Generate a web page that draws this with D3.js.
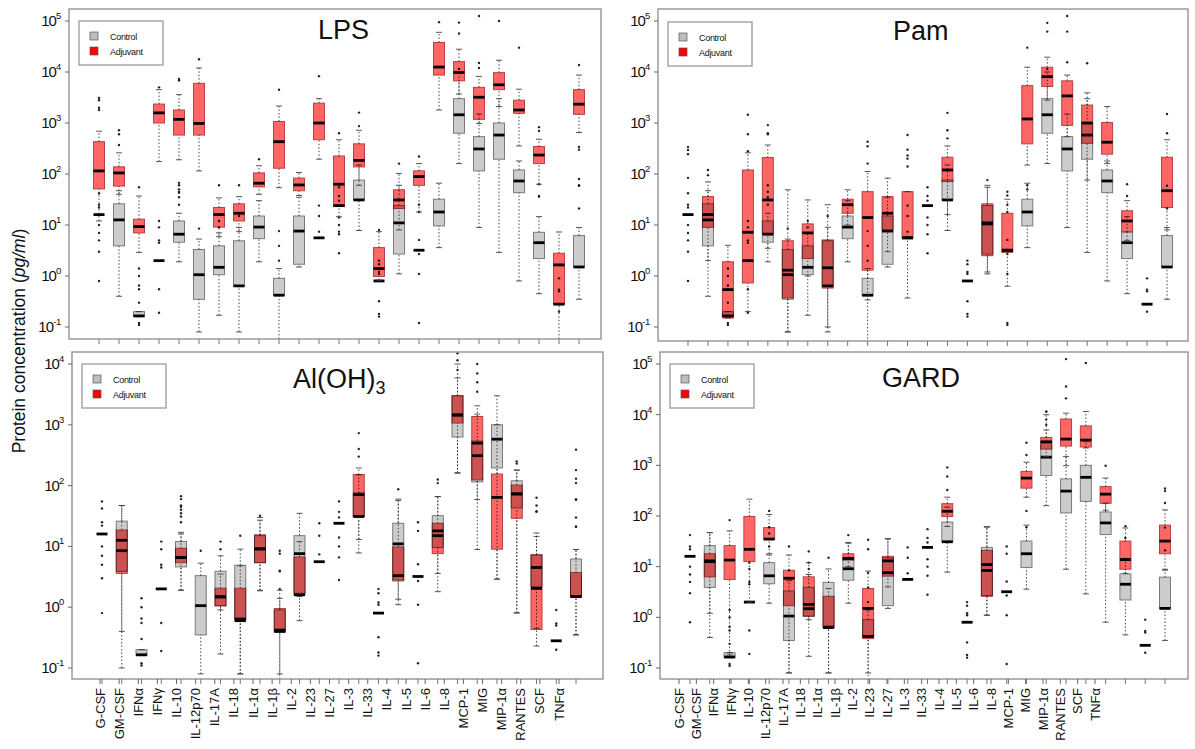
<!DOCTYPE html>
<html>
<head>
<meta charset="utf-8">
<script src="https://d3js.org/d3.v7.min.js"></script>
<style>
  body { margin: 0; background: #fff; }
  svg text { font-family: "Liberation Sans", Arial, sans-serif; fill: #111; }
</style>
</head>
<body>
<script>
const W = 1195, H = 749

const cytokines = ["G-CSF", "GM-CSF", "IFNα", "IFNγ", "IL-10", "IL-12p70", "IL-17A", "IL-18", "IL-1α", "IL-1β",
  "IL-2", "IL-23", "IL-27", "IL-3", "IL-33", "IL-4", "IL-5", "IL-6", "IL-8", "MCP-1", "MIG", "MIP-1α", "RANTES", "SCF", "TNFα"]

// box stats per cytokine: [lower whisker, Q1, median, Q3, upper whisker] in pg/ml, null = no box
const controlBox = [
  [16, 16, 16, 16, 16], [0.4, 3.9, 12.6, 26, 47], [0.16, 0.16, 0.165, 0.2, 0.2], [2, 2, 2, 2, 2],
  [1.9, 4.6, 6.6, 12, 17], [0.08, 0.35, 1.06, 3.3, 5.3], [0.17, 1.06, 1.48, 3.9, 7], [0.08, 0.64, 0.64, 4.9, 9],
  [1.9, 5.4, 9.1, 15, 30], [0.05, 0.42, 0.42, 0.9, 1.4], [1.5, 1.7, 7.6, 15, 35], [5.6, 5.6, 5.6, 5.6, 5.6],
  [24, 24, 24, 24, 24], [7.8, 31, 31, 76, 150], [0.8, 0.8, 0.8, 0.8, 0.8], [1.1, 2.7, 11, 24, 60],
  [3.2, 3.2, 3.2, 3.2, 3.2], [3.6, 9.6, 18, 32, 66], [160, 630, 1450, 3000, 10000], [8.9, 115, 310, 540, 1500],
  [2.9, 195, 580, 1000, 3000], [0.8, 43, 73, 120, 180], [0.45, 2.2, 4.5, 7.2, 14.6], [0.28, 0.28, 0.28, 0.28, 0.28],
  [0.35, 1.5, 1.5, 6.2, 8.9]
]
const controlOut = [
  [42, 25, 22, 10, 7, 5, 3, 0.8], [], [1.4, 1.0, 0.65, 0.55, 0.3, 0.12, 0.11], [12, 9, 5, 4.5, 0.55, 0.19],
  [60, 45, 35, 25], [8.5], [12, 9], [15], [], [2.0, 3.9, 7.6], [], [24, 15, 7.4],
  [55, 37, 30, 14, 10, 6.6, 2.8], [], [2.0, 1.7, 1.2, 1.1, 0.32, 0.18, 0.16], [],
  [25, 18, 5.1, 2.7, 1.1, 0.12], [], [11500], [], [], [], [63, 37], [0.9, 0.54, 0.5, 0.2], [59, 21]
]

const lpsBox = [
  [12, 51, 115, 430, 690], [40, 58, 105, 138, 260], [2.9, 7, 9.3, 13, 37], [175, 1000, 1580, 2350, 4500],
  [190, 580, 1180, 1800, 3600], [115, 580, 980, 6000, 12000], [5.9, 9.1, 16, 22, 34], [7.4, 12, 17, 26, 36],
  [40, 56, 66, 105, 145], [54, 130, 430, 1070, 2150], [38, 47, 61, 83, 107], [195, 470, 1000, 2450, 3000],
  [14.5, 23, 63, 225, 470], [60, 138, 185, 390, 720], [0.83, 0.98, 1.4, 3.6, 7.4], [8, 21, 31, 49, 102],
  [18, 60, 89, 115, 160], [1800, 8700, 12500, 38000, 60000], [3700, 6700, 9800, 16000, 28000], [980, 1180, 3200, 5000, 8200],
  [2100, 4500, 5600, 9700, 17000], [355, 1550, 1800, 2800, 4600], [63, 160, 235, 345, 480], [0.05, 0.28, 1.65, 2.8, 7.3],
  [650, 1480, 2340, 4500, 8700]
]
const lpsOut = [
  [3100, 2800, 2000, 1800], [720, 600, 370], [55], [5000], [7300, 6800, 67, 50, 43], [17800], [60], [60], [195], [4500],
  [], [8300], [630, 7.4], [870, 1600], [8], [160], [220], [95000], [57000, 93000], [12000, 15000, 125000],
  [100000], [30000], [830, 700, 36], [], [13700, 340, 300, 80, 60]
]

const pamBox = [
  null, [2, 9, 16, 36, 70], [0.15, 0.15, 0.54, 1.9, 4], [0.2, 0.73, 7.2, 120, 260],
  [3.5, 6.9, 31, 210, 370], [0.08, 0.37, 1.3, 4.9, 49], [1, 2.2, 7, 10.5, 31], [0.1, 0.58, 1.45, 5.1, 25],
  [10, 17, 25, 32, 49], [0.34, 1.3, 14, 45, 112], [3, 8, 17, 36, 83], [0.37, 5.6, 5.6, 45, 45],
  null, [16, 71, 120, 213, 355], null, [1.2, 2.5, 10.5, 26, 55],
  [0.63, 2.9, 3.2, 17, 32], [150, 390, 1200, 5400, 12400], [2800, 5200, 8100, 12400, 19500], [540, 900, 3400, 6700, 8700],
  [76, 400, 1000, 2250, 3900], [160, 245, 420, 1020, 2100], [5, 7.4, 12, 19, 30], null,
  [8, 22, 47, 213, 470]
]
const pamOut = [
  [340, 295, 245, 84], [120, 95], [], [1450, 600, 280], [910, 630, 600], [], [], [], [], [430, 350, 160],
  [], [580, 300, 230, 200, 140], [], [1580, 720, 500], [], [76], [45, 38, 0.11], [30000, 60, 50],
  [62000, 92000], [15500, 62000, 125000], [14800], [], [], [], [1500, 630]
]

const alumBox = [
  null, [0.1, 3.6, 8.5, 18.6, 47], null, null,
  [1.9, 5.4, 6.6, 9.3, 16], null, [0.9, 1.05, 1.48, 2.05, 3.5], [0.08, 0.6, 0.6, 2.05, 4.8],
  [1.86, 5.4, 9.1, 15.5, 27], [0.08, 0.39, 0.4, 0.95, 1.9], [0.6, 1.6, 1.6, 6.7, 12], null,
  null, [13, 31, 71, 152, 195], null, [1.35, 2.8, 3.3, 9.8, 57],
  null, [1.8, 7.6, 15, 24, 66], [163, 1070, 1450, 3000, 5900], [59, 124, 500, 1370, 2050],
  [2.9, 9, 64, 155, 1000], [0.81, 29, 73, 102, 180], [0.23, 0.43, 2.04, 7.3, 16.6], null,
  [0.35, 1.5, 1.5, 3.7, 8.9]
]
const alumOut = [
  [55], [], [], [], [67, 47, 40, 31], [], [], [], [32], [8.5, 4],
  [], [], [], [400, 300, 730], [], [87], [], [126, 110], [15000, 8000], [10000, 7000, 5000, 3500],
  [], [250, 230], [47, 38], [], [390, 180, 130, 110, 59, 30, 21]
]

const gardBox = [
  null, [1.2, 6.3, 13, 18, 47], [0.18, 5.6, 13.5, 26, 51], [2, 12.6, 22, 98, 215],
  [18, 35, 35, 59, 107], [0.08, 1.7, 5.9, 8.5, 17], [0.9, 1.05, 1.8, 6.3, 12], [0.08, 0.63, 0.63, 2.6, 3.7],
  [10, 13.5, 14.5, 18, 29], [0.08, 0.38, 1.5, 3.7, 8.2], [4, 6.5, 13, 16, 36], null,
  null, [62, 98, 124, 175, 235], null, [1.1, 2.6, 8.4, 21, 62],
  null, [235, 355, 560, 760, 1150], [1480, 2090, 2900, 3550, 5000], [980, 2400, 3300, 8200, 10700],
  [2200, 2300, 3150, 6000, 11500], [130, 178, 270, 380, 560], [7.4, 8.9, 13.8, 32, 58], null,
  [8.5, 18, 32, 66, 132]
]
const gardOut = [
  [], [], [83], [], [126], [25], [20], [], [42], [34, 22],
  [], [], [], [325, 600, 910], [], [], [], [1600, 2800, 126, 60], [11500, 8000, 6300], [21000, 36000, 125000],
  [105000], [980], [], [], [350, 310, 180]
]

// page layout of the four panels
const panels = [
  { key: "lps", title: "LPS", sub: "", box: lpsBox, out: lpsOut, frame: [69, 9, 601, 339], yr: [327, 21], ymax: 5,
    xr: [99, 579], tx: 318, ty: 39, leg: [79, 21], labels: null },
  { key: "pam", title: "Pam", sub: "", box: pamBox, out: pamOut, frame: [658, 9, 1188, 341], yr: [327, 21], ymax: 5,
    xr: [688, 1167], tx: 893, ty: 40, leg: [668, 22], labels: null },
  { key: "alum", title: "Al(OH)", sub: "3", box: alumBox, out: alumOut, frame: [72, 352, 603, 679], yr: [668, 364], ymax: 4,
    xr: [102, 576], tx: 293, ty: 388, leg: [82, 364], labels: [100, 559] },
  { key: "gard", title: "GARD", sub: "", box: gardBox, out: gardOut, frame: [660, 352, 1188, 679], yr: [668, 364], ymax: 5,
    xr: [690, 1165], tx: 882, ty: 387, leg: [670, 364], labels: [679, 1095] }
]

const ctrlFill = "#cccccc", ctrlEdge = "#7a7a7a"
const adjFill = "#ff6666", adjEdge = "#b84040"
const frameCol = "#9a9a9a"

const svg = d3.select("body").append("svg").attr("width", W).attr("height", H)
svg.append("rect").attr("width", W).attr("height", H).attr("fill", "#fff")

function drawPanel(p) {
  const [x0, y0, x1, y1] = p.frame
  const x = d3.scalePoint().domain(cytokines).range(p.xr)
  const y = d3.scaleLog().domain([0.1, Math.pow(10, p.ymax)]).range(p.yr)
  const g = svg.append("g").attr("class", "panel-" + p.key)

  g.append("clipPath").attr("id", "clip-" + p.key)
    .append("rect").attr("x", x0).attr("y", y0).attr("width", x1 - x0).attr("height", y1 - y0)
  const plot = g.append("g").attr("clip-path", `url(#clip-${p.key})`)
  plot.append("rect").attr("x", x0).attr("y", y0).attr("width", x1 - x0).attr("height", y1 - y0).attr("fill", "#fff")

  const series = [
    { stats: controlBox, out: controlOut, fill: ctrlFill, edge: ctrlEdge },
    { stats: p.box, out: p.out, fill: adjFill, edge: adjEdge }
  ]
  series.forEach(s => {
    const data = cytokines.map((c, i) => ({ c, s: s.stats[i], o: s.out[i] || [] }))
    const sg = plot.append("g")
    const b = sg.selectAll("g.bx").data(data.filter(d => d.s)).join("g")
      .attr("class", "bx")
      .attr("transform", d => `translate(${x(d.c)},0)`)
    // whiskers (dashed) and staples
    b.append("line").attr("y1", d => y(d.s[0])).attr("y2", d => y(d.s[1]))
      .attr("stroke", "#333").attr("stroke-width", 0.9).attr("stroke-dasharray", "1.5,2")
    b.append("line").attr("y1", d => y(d.s[3])).attr("y2", d => y(d.s[4]))
      .attr("stroke", "#333").attr("stroke-width", 0.9).attr("stroke-dasharray", "1.5,2")
    ;[0, 4].forEach(k => {
      b.append("line").attr("x1", -3).attr("x2", 3)
        .attr("y1", d => y(d.s[k])).attr("y2", d => y(d.s[k]))
        .attr("stroke", "#444").attr("stroke-width", 0.9)
    })
    b.append("rect")
      .attr("x", -5.5).attr("width", 11)
      .attr("y", d => y(d.s[3]))
      .attr("height", d => Math.max(0, y(d.s[1]) - y(d.s[3])))
      .attr("fill", s.fill).attr("stroke", s.edge).attr("stroke-width", 1)
      .style("mix-blend-mode", "multiply")
    b.append("line").attr("x1", -5.5).attr("x2", 5.5)
      .attr("y1", d => y(d.s[2])).attr("y2", d => y(d.s[2]))
      .attr("stroke", "#000").attr("stroke-width", 2.8)
    // outliers
    const pts = data.flatMap(d => d.o.map(v => ({ c: d.c, v })))
    sg.selectAll("circle").data(pts).join("circle")
      .attr("cx", d => x(d.c)).attr("cy", d => y(d.v)).attr("r", 1.2).attr("fill", "#222")
  })

  // frame
  g.append("rect").attr("x", x0).attr("y", y0).attr("width", x1 - x0).attr("height", y1 - y0)
    .attr("fill", "none").attr("stroke", frameCol).attr("stroke-width", 1.5)

  // y axis: powers of ten
  const exps = d3.range(-1, p.ymax + 1)
  const ya = g.append("g")
  ya.selectAll("line").data(exps).join("line")
    .attr("x1", x0 - 4).attr("x2", x0).attr("y1", e => y(Math.pow(10, e))).attr("y2", e => y(Math.pow(10, e)))
    .attr("stroke", "#666").attr("stroke-width", 1)
  const lab = ya.selectAll("text").data(exps).join("text")
    .attr("x", x0 - 8).attr("y", e => y(Math.pow(10, e)) + 5)
    .attr("text-anchor", "end").attr("font-size", 15).attr("letter-spacing", -0.9)
  lab.append("tspan").text("10")
  lab.append("tspan").attr("font-size", 9.5).attr("dy", -7).attr("letter-spacing", -0.3).text(e => String(e))

  // x ticks under the frame
  g.append("g").selectAll("line").data(cytokines).join("line")
    .attr("x1", d => x(d)).attr("x2", d => x(d)).attr("y1", y1).attr("y2", y1 + 5)
    .attr("stroke", "#777").attr("stroke-width", 1)

  if (p.labels) {
    const xl = d3.scalePoint().domain(cytokines).range(p.labels)
    const xa = g.append("g")
    xa.selectAll("line").data(cytokines).join("line")
      .attr("x1", d => xl(d)).attr("x2", d => xl(d)).attr("y1", y1).attr("y2", y1 + 5)
      .attr("stroke", "#666")
    xa.selectAll("text").data(cytokines).join("text")
      .attr("transform", d => `translate(${xl(d) + 4.5},${y1 + 9}) rotate(-90)`)
      .attr("text-anchor", "end").attr("font-size", 13)
      .text(d => d)
  }

  // title
  const t = g.append("text").attr("x", p.tx).attr("y", p.ty).attr("font-size", 27).text(p.title)
  if (p.sub) t.append("tspan").attr("font-size", 18).attr("dy", 6).text(p.sub)

  // legend
  const [lx, ly] = p.leg
  const lg = g.append("g").attr("transform", `translate(${lx},${ly})`)
  lg.append("rect").attr("width", 84).attr("height", 44).attr("fill", "#fff")
    .attr("stroke", frameCol).attr("stroke-width", 1.3)
  const items = [{ t: "Control", f: "#bdbdbd" }, { t: "Adjuvant", f: "#ff0000" }]
  items.forEach((it, i) => {
    lg.append("rect").attr("x", 11).attr("y", 11 + i * 15).attr("width", 8).attr("height", 8)
      .attr("fill", it.f).attr("stroke", "#555").attr("stroke-width", 0.7)
    lg.append("text").attr("x", 31).attr("y", 18.5 + i * 15).attr("font-size", 9).attr("letter-spacing", -0.3)
      .attr("fill", "#222").text(it.t)
  })
}

panels.forEach(drawPanel)

// shared y axis title
const yt = svg.append("text")
  .attr("transform", "translate(25,341) rotate(-90)")
  .attr("text-anchor", "middle").attr("font-size", 17.5)
yt.append("tspan").text("Protein concentration (")
yt.append("tspan").attr("font-style", "italic").text("pg/ml")
yt.append("tspan").text(")")
</script>
</body>
</html>
